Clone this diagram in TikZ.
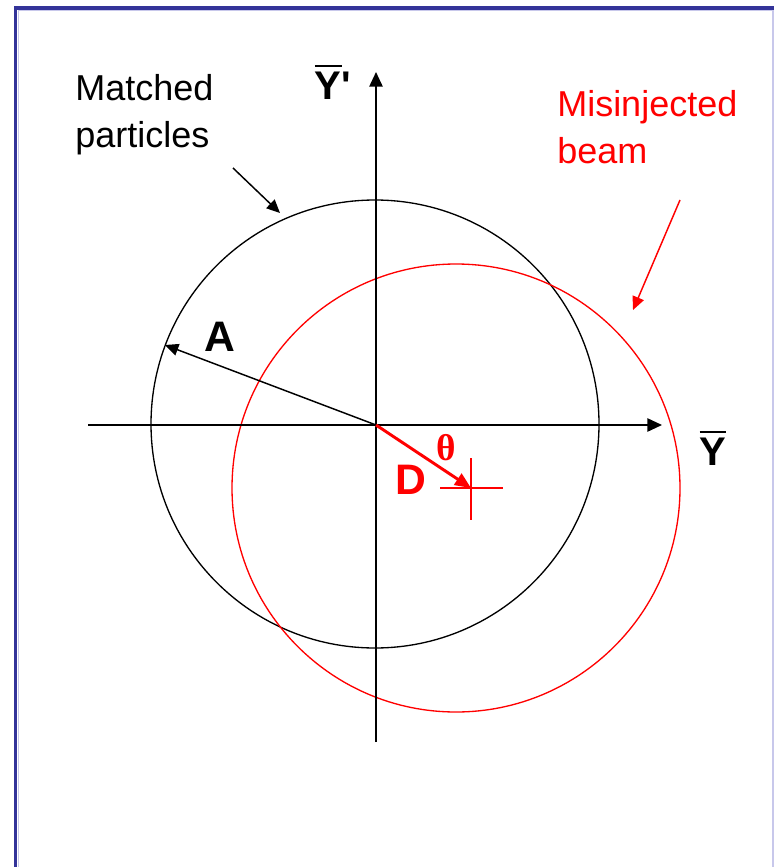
\documentclass[tikz,border=0pt]{standalone}
\usepackage{fontspec}
\setmainfont{Liberation Sans}
\newfontfamily\grfont{Liberation Serif}
\newfontfamily\nomapfont{Liberation Sans}
\usetikzlibrary{arrows.meta}
\definecolor{framecol}{RGB}{51,51,153}
\definecolor{framelite}{RGB}{200,200,235}
\definecolor{redc}{RGB}{255,0,0}
\newcommand{\barY}{{\setbox0\hbox{Y}\rlap{\raisebox{\dimexpr\ht0+4pt\relax}{\rule{\wd0}{1.6pt}}}Y}}
\begin{document}
\begin{tikzpicture}[x=0.75pt,y=-0.75pt,
  axisline/.style={line width=1.2pt,-{Triangle[length=11pt,width=10pt]}},
  blkarrow/.style={line width=1.1pt,-{Triangle[length=10pt,width=9pt]}},
  redarrow/.style={redc,line width=1.1pt,-{Triangle[length=10pt,width=9pt]}},
  darrow/.style={redc,line width=2.2pt,-{Triangle[length=12pt,width=10pt]}},
  lbl/.style={inner sep=0pt,font=\fontsize{27pt}{35pt}\selectfont,align=left,anchor=north west},
  biglbl/.style={inner sep=0pt,font=\fontsize{32pt}{38pt}\selectfont\bfseries},
  axlbl/.style={inner sep=0pt,font=\fontsize{30pt}{36pt}\selectfont\bfseries}]
\useasboundingbox (0,0) rectangle (774,867);
\fill[white] (0,0) rectangle (774,867);
% frame
\draw[framelite,line width=0.6pt] (18.5,867) -- (18.5,10.5) -- (774,10.5);
\draw[framelite,line width=0.8pt] (773,9) -- (773,867);
\draw[framecol,line width=2.4pt] (15.5,867) -- (15.5,8) -- (774,8);
% coordinates
\coordinate (O) at (376,425);
\coordinate (Cb) at (375,424);
\coordinate (Cr) at (456,488);
\coordinate (X) at (471,488);
\coordinate (Xl) at (440,488);
\coordinate (Xr) at (503,488);
\coordinate (Xt) at (471,458);
\coordinate (Xb) at (471,520);
\coordinate (xs) at (88,425);
\coordinate (xe) at (662,425);
\coordinate (ys) at (376,742);
\coordinate (ye) at (376,72);
\coordinate (Aend) at (165,345);
\coordinate (ma1) at (233,168);
\coordinate (ma2) at (280,213);
\coordinate (mi1) at (680,200);
\coordinate (mi2) at (633,310);
% circles
\draw[line width=1.0pt] (Cb) circle[radius=224];
\draw[redc,line width=1.0pt] (Cr) circle[radius=224];
% axes
\draw[axisline] (xs) -- (xe);
\draw[axisline] (ys) -- (ye);
% cross
\draw[redc,line width=2.2pt] (Xl) -- (Xr);
\draw[redc,line width=2.2pt] (Xt) -- (Xb);
% arrows
\draw[blkarrow] (O) -- (Aend);
\draw[darrow] (O) -- (X);
\draw[blkarrow] (ma1) -- (ma2);
\draw[redarrow] (mi1) -- (mi2);
% labels
\node[lbl] (matched) at (75,74) {Matched\\particles};
\node[lbl,text=redc] (misinj) at (557,90) {Misinjected\\beam};
\node[biglbl] (A) at (220,337) {A};
\node[biglbl,text=redc] (D) at (411,480) {D};
\node[inner sep=0pt,text=redc,font=\fontsize{28pt}{34pt}\selectfont\grfont\bfseries] (theta) at (446,448) {θ};
\node[axlbl] (Yp) at (333,82) {\barY{\nomapfont\bfseries'}};
\node[axlbl] (Y) at (713,448) {\barY};
\end{tikzpicture}
\end{document}
